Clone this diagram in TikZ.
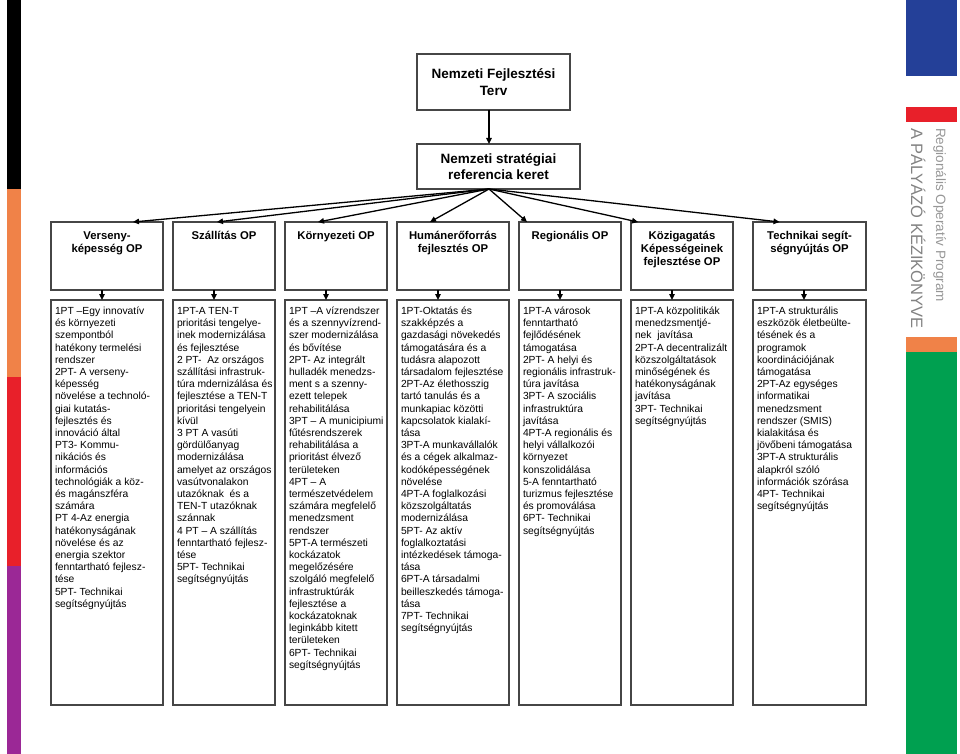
\documentclass[tikz,border=0pt]{standalone}
\usepackage{fontspec}
\setmainfont{Liberation Sans}
\usetikzlibrary{arrows.meta,calc}
\definecolor{barblack}{RGB}{0,0,0}
\definecolor{barorange}{RGB}{240,130,72}
\definecolor{barred}{RGB}{232,32,42}
\definecolor{barpurple}{RGB}{155,40,150}
\definecolor{barblue}{RGB}{36,64,152}
\definecolor{bargreen}{RGB}{0,160,80}
\definecolor{framegray}{RGB}{70,70,70}
\definecolor{brandgray}{RGB}{130,130,130}
\definecolor{brandlight}{RGB}{150,150,150}
\newcommand{\opcontent}[2]{\parbox[c][68pt][t]{#1}{\centering\rule{0pt}{17pt}#2}}
\newcommand{\detcontent}[2]{\parbox[c][405pt][t]{#1}{\raggedright\leftskip=4pt\rule{0pt}{14.5pt}#2}}
\begin{document}
\begin{tikzpicture}[x=1pt,y=-1pt,
  frame/.style={draw=framegray, line width=1.1pt, inner sep=0pt, outer sep=0pt, anchor=north west, fill=white},
  topbox/.style={frame, font=\bfseries\fontsize{13.5}{16.5}\selectfont, align=center},
  opbox/.style={frame, font=\bfseries\fontsize{11.3}{13.3}\selectfont},
  detbox/.style={frame, font=\fontsize{10.3}{12.2}\selectfont},
  arr/.style={-{Triangle[length=6pt,width=5.5pt]}, line width=1.3pt, black},
  brandbig/.style={rotate=-90, anchor=base west, inner sep=0pt, text=brandgray, font=\fontsize{16.5}{18}\selectfont},
  brandsmall/.style={rotate=-90, anchor=base west, inner sep=0pt, text=brandlight, font=\fontsize{13.5}{15}\selectfont}]
\useasboundingbox (0,0) rectangle (960,754);
% left colour bar
\fill[barblack] (7,0) rectangle (21,188.5);
\fill[barorange] (7,188.5) rectangle (21,377);
\fill[barred] (7,377) rectangle (21,566);
\fill[barpurple] (7,566) rectangle (21,754);
% right colour bar
\fill[barblue] (906,0) rectangle (957,76);
\fill[barred] (906,107) rectangle (957,122);
\fill[barorange] (906,337) rectangle (957,352);
\fill[bargreen] (906,352) rectangle (957,754);
\node[brandbig] (brand) at (911,128) {A PÁLYÁZÓ KÉZIKÖNYVE};
\node[brandsmall] (brandsub) at (936,128) {Regionális Operatív Program};

% top boxes
\node[topbox, minimum width=153pt, minimum height=56pt] (nft) at (417,54) {Nemzeti Fejlesztési\\Terv};
\node[topbox, minimum width=163pt, minimum height=45pt] (nsr) at (417,144) {Nemzeti stratégiai\\referencia keret};

% OP boxes
\node[opbox] (op1) at (51,222) {\opcontent{112pt}{Verseny-\\képesség OP}};
\node[opbox] (op2) at (173,222) {\opcontent{102pt}{Szállítás OP}};
\node[opbox] (op3) at (285,222) {\opcontent{102pt}{Környezeti OP}};
\node[opbox] (op4) at (397,222) {\opcontent{112pt}{Humánerőforrás\\fejlesztés OP}};
\node[opbox] (op5) at (519,222) {\opcontent{102pt}{Regionális OP}};
\node[opbox] (op6) at (631,222) {\opcontent{102pt}{Közigagatás\\Képességeinek\\fejlesztése OP}};
\node[opbox] (op7) at (753,222) {\opcontent{113pt}{Technikai segít-\\ségnyújtás OP}};

% detail boxes
\node[detbox] (d1) at (51,300) {\detcontent{112pt}{1PT –Egy innovatív\\és környezeti\\szempontból\\hatékony termelési\\rendszer\\2PT- A verseny-\\képesség\\növelése a technoló-\\giai kutatás-\\fejlesztés és\\innováció által\\PT3- Kommu-\\nikációs és\\információs\\technológiák a köz-\\és magánszféra\\számára\\PT 4-Az energia\\hatékonyságának\\növelése és az\\energia szektor\\fenntartható fejlesz-\\tése\\5PT- Technikai\\segítségnyújtás}};
\node[detbox] (d2) at (173,300) {\detcontent{102pt}{1PT-A TEN-T\\prioritási tengelye-\\inek modernizálása\\és fejlesztése\\2 PT-\ \ Az országos\\szállítási infrastruk-\\túra mdernizálása és\\fejlesztése a TEN-T\\prioritási tengelyein\\kívül\\3 PT A vasúti\\gördülőanyag\\modernizálása\\amelyet az országos\\vasútvonalakon\\utazóknak\ \ és a\\TEN-T utazóknak\\szánnak\\4 PT – A szállítás\\fenntartható fejlesz-\\tése\\5PT- Technikai\\segítségnyújtás}};
\node[detbox] (d3) at (285,300) {\detcontent{102pt}{1PT –A vízrendszer\\és a szennyvízrend-\\szer modernizálása\\és bővítése\\2PT- Az integrált\\hulladék menedzs-\\ment s a szenny-\\ezett telepek\\rehabilitálása\\3PT – A municipiumi\\fűtésrendszerek\\rehabilitálása a\\prioritást élvező\\területeken\\4PT – A\\természetvédelem\\számára megfelelő\\menedzsment\\rendszer\\5PT-A természeti\\kockázatok\\megelőzésére\\szolgáló megfelelő\\infrastruktúrák\\fejlesztése a\\kockázatoknak\\leginkább kitett\\területeken\\6PT- Technikai\\segítségnyújtás}};
\node[detbox] (d4) at (397,300) {\detcontent{112pt}{1PT-Oktatás és\\szakképzés a\\gazdasági növekedés\\támogatására és a\\tudásra alapozott\\társadalom fejlesztése\\2PT-Az élethosszig\\tartó tanulás és a\\munkapiac közötti\\kapcsolatok kialakí-\\tása\\3PT-A munkavállalók\\és a cégek alkalmaz-\\kodóképességének\\növelése\\4PT-A foglalkozási\\közszolgáltatás\\modernizálása\\5PT- Az aktív\\foglalkoztatási\\intézkedések támoga-\\tása\\6PT-A társadalmi\\beilleszkedés támoga-\\tása\\7PT- Technikai\\segítségnyújtás}};
\node[detbox] (d5) at (519,300) {\detcontent{102pt}{1PT-A városok\\fenntartható\\fejlődésének\\támogatása\\2PT- A helyi és\\regionális infrastruk-\\túra javítása\\3PT- A szociális\\infrastruktúra\\javítása\\4PT-A regionális és\\helyi vállalkozói\\környezet\\konszolidálása\\5-A fenntartható\\turizmus fejlesztése\\és promoválása\\6PT- Technikai\\segítségnyújtás}};
\node[detbox] (d6) at (631,300) {\detcontent{102pt}{1PT-A közpolitikák\\menedzsmentjé-\\nek\ \ javítása\\2PT-A decentralizált\\közszolgáltatások\\minőségének és\\hatékonyságának\\javítása\\3PT- Technikai\\segítségnyújtás}};
\node[detbox] (d7) at (753,300) {\detcontent{113pt}{1PT-A strukturális\\eszközök életbeülte-\\tésének és a\\programok\\koordinációjának\\támogatása\\2PT-Az egységes\\informatikai\\menedzsment\\rendszer (SMIS)\\kialakitása és\\jövőbeni támogatása\\3PT-A strukturális\\alapkról szóló\\információk szórása\\4PT- Technikai\\segítségnyújtás}};

% connectors
\draw[arr] ([xshift=-4.5pt]nft.south) -- ([xshift=-4.5pt]nft.south |- nsr.north);
\coordinate (fan) at ([xshift=-9.5pt]nsr.south);
\draw[arr] (fan) -- ([xshift=26pt]op1.north);
\draw[arr] (fan) -- ([xshift=-7pt]op2.north);
\draw[arr] (fan) -- ([xshift=-18pt]op3.north);
\draw[arr] (fan) -- ([xshift=-23pt]op4.north);
\draw[arr] (fan) -- ([xshift=-43pt]op5.north);
\draw[arr] (fan) -- ([xshift=-44pt]op6.north);
\draw[arr] (fan) -- ([xshift=-30pt]op7.north);
\draw[arr] ([xshift=-5pt]op1.south) -- ([xshift=-5pt]d1.north);
\draw[arr] ([xshift=-10pt]op2.south) -- ([xshift=-10pt]d2.north);
\draw[arr] ([xshift=-10pt]op3.south) -- ([xshift=-10pt]d3.north);
\draw[arr] ([xshift=-15pt]op4.south) -- ([xshift=-15pt]d4.north);
\draw[arr] ([xshift=-10pt]op5.south) -- ([xshift=-10pt]d5.north);
\draw[arr] ([xshift=-10pt]op6.south) -- ([xshift=-10pt]d6.north);
\draw[arr] ([xshift=-5.5pt]op7.south) -- ([xshift=-5.5pt]d7.north);
\end{tikzpicture}
\end{document}
